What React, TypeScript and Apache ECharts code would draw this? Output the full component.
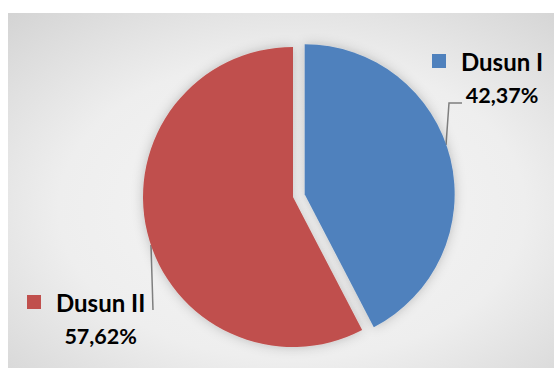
import React, { useEffect, useRef } from "react";
import * as echarts from "echarts";

const categories = ["Dusun I", "Dusun II"];
const values = [42.37, 57.62];
const colors = ["#4F81BD", "#C0504D"];

const NAME_FONT = 24;
const PCT_FONT = 21.5;
const FAMILY = "Lato";

export default function App() {
  const ref = useRef<HTMLDivElement>(null);
  useEffect(() => {
    if (!ref.current) return;
    const chart = echarts.init(ref.current, undefined, { renderer: "svg" });
    const fmt = (v: number) => v.toFixed(2).replace(".", ",") + "%";
    const ctx = document.createElement("canvas").getContext("2d")!;
    const measure = (t: string, size: number) => {
      ctx.font = `bold ${size}px ${FAMILY}`;
      return ctx.measureText(t).width;
    };
    const lead = 14 + 15;
    const pads = categories.map(
      (c, i) => lead + Math.max(0, (measure(c, NAME_FONT) - measure(fmt(values[i]), PCT_FONT)) / 2)
    );
    const explode = 12;
    const total = values.reduce((a, b) => a + b, 0);
    const mid = ((90 - (360 * values[0]) / total / 2) * Math.PI) / 180;
    const odx = explode * Math.cos(mid);
    const ody = -explode * Math.sin(mid);
    const cx = 293;
    const cy = 197;
    const labelPos: Record<number, any> = {
      0: { x: 432, y: 44, line: [[446, 145], [449, 103], [462, 103]] },
      1: { x: 27, y: 285, line: [[151, 245], [153, 310], [153, 310]] },
    };
    const rich: any = {
      sp: { width: 15 },
      nm: {
        fontFamily: FAMILY,
        fontWeight: "bold",
        fontSize: NAME_FONT,
        color: "#000",
        lineHeight: 34,
      },
      pc: {
        fontFamily: FAMILY,
        fontWeight: "bold",
        fontSize: PCT_FONT,
        color: "#000",
        lineHeight: 34,
      },
    };
    categories.forEach((_, i) => {
      rich["sq" + i] = { width: 14, height: 14, backgroundColor: colors[i] };
      rich["pad" + i] = { width: pads[i] };
    });
    const makeSeries = (idx: number, center: number[]) => ({
      type: "pie",
      center,
      radius: 150,
      startAngle: 90,
      clockwise: true,
      silent: true,
      emphasis: { disabled: true },
      itemStyle: {
        shadowBlur: 12,
        shadowColor: "rgba(0,0,0,0.22)",
      },
      label: {
        show: true,
        position: "outside",
        overflow: "none",
        alignTo: "none",
        formatter: (p: any) =>
          `{sq${p.dataIndex}|}{sp|}{nm|${p.name}}\n{pad${p.dataIndex}|}{pc|${fmt(p.value)}}`,
        rich,
      },
      labelLine: {
        show: true,
        lineStyle: { color: "#7f7f7f", width: 1.5 },
      },
      labelLayout: (params: any) => {
        const lp = labelPos[params.dataIndex];
        return {
          x: lp.x,
          y: lp.y,
          align: "left",
          verticalAlign: "top",
          labelLinePoints: lp.line,
        };
      },
      data: categories.map((c, i) => ({
        name: c,
        value: values[i],
        itemStyle:
          i === idx
            ? { color: colors[i] }
            : { color: "rgba(0,0,0,0)", shadowBlur: 0, shadowColor: "rgba(0,0,0,0)" },
        label: { show: i === idx },
        labelLine: { show: i === idx },
      })),
    });
    chart.setOption({
      animation: false,
      backgroundColor: "#ffffff",
      graphic: [
        {
          type: "rect",
          z: -10,
          silent: true,
          shape: { x: 8, y: 13, width: 546, height: 355 },
          style: {
            fill: new echarts.graphic.RadialGradient(0.52, 0.55, 0.95, [
              { offset: 0, color: "#f6f6f6" },
              { offset: 0.45, color: "#eeeeee" },
              { offset: 1, color: "#c4c4c4" },
            ]),
          },
        },
      ],
      series: [makeSeries(1, [cx, cy]), makeSeries(0, [cx + odx, cy + ody])],
    });
    return () => chart.dispose();
  }, []);
  return (
    <div
      ref={ref}
      style={{ position: "fixed", left: 0, top: 0, width: 554, height: 368 }}
    />
  );
}
